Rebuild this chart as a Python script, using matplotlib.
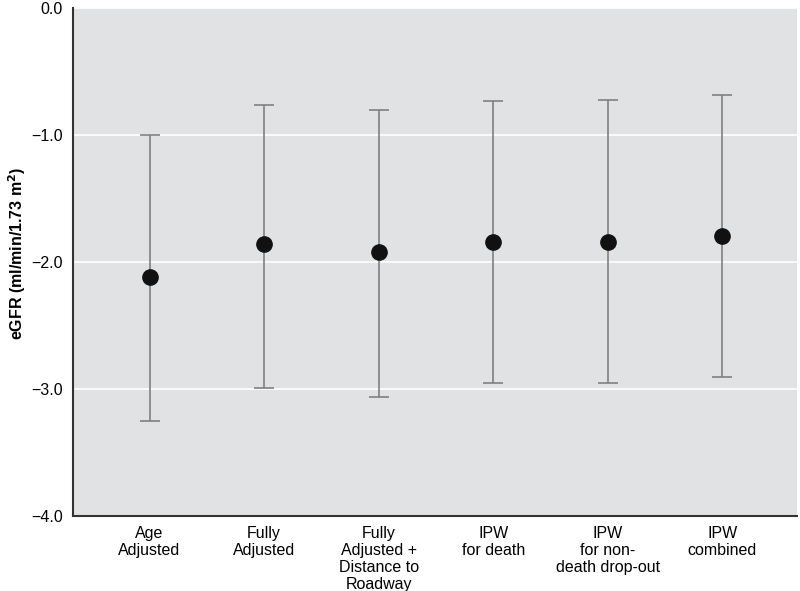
import matplotlib
matplotlib.use("Agg")
import matplotlib.pyplot as plt
from matplotlib import font_manager

categories = ["Age\nAdjusted", "Fully\nAdjusted", "Fully\nAdjusted +\nDistance to\nRoadway",
              "IPW\nfor death", "IPW\nfor non-\ndeath drop-out", "IPW\ncombined"]
estimates = [-2.12, -1.86, -1.92, -1.845, -1.838, -1.795]
upper = [-0.995, -0.76, -0.805, -0.733, -0.72, -0.686]
lower = [-3.25, -2.99, -3.06, -2.95, -2.95, -2.908]
yticks = [0.0, -1.0, -2.0, -3.0, -4.0]
ytick_labels = ["0.0", "\u22121.0", "\u22122.0", "\u22123.0", "\u22124.0"]

names = {f.name for f in font_manager.fontManager.ttflist}
fam = "Liberation Sans Narrow" if "Liberation Sans Narrow" in names else "Liberation Sans"
plt.rcParams["font.family"] = [fam, "DejaVu Sans"]

fig = plt.figure(figsize=(8, 5.91), dpi=100)
ax = fig.add_axes([0.091, 0.127, 0.905, 0.859])
ax.set_facecolor("#e1e2e4")
x = list(range(len(categories)))
yerr = [[e - l for e, l in zip(estimates, lower)], [u - e for u, e in zip(upper, estimates)]]
ax.errorbar(x, estimates, yerr=yerr, fmt="o", color="#111111", markersize=11,
            ecolor="#808080", elinewidth=1.2, capsize=7.5, capthick=1.2, zorder=3)
ax.set_ylim(-4.0, 0.0)
ax.set_xlim(-0.67, 5.65)
ax.set_yticks(yticks)
ax.set_yticklabels(ytick_labels, fontsize=11.5)
ax.set_xticks(x)
ax.set_xticklabels(categories, fontsize=11.5, linespacing=1.18, va="top")
ax.tick_params(length=0)
ax.tick_params(axis="y", pad=7)
ax.tick_params(axis="x", pad=7)
ax.grid(axis="y", color="white", linewidth=1.2)
ax.set_axisbelow(True)
for s in ["top", "right"]:
    ax.spines[s].set_visible(False)
for s in ["left", "bottom"]:
    ax.spines[s].set_color("#333333")
    ax.spines[s].set_linewidth(1.5)
fig.text(17 / 800, 1 - 253 / 591, "eGFR (ml/min/1.73 m$^\\mathbf{2}$)", fontsize=11.5,
         fontweight="bold", rotation=90, ha="center", va="center")
fig.savefig("out.png", dpi=100)
